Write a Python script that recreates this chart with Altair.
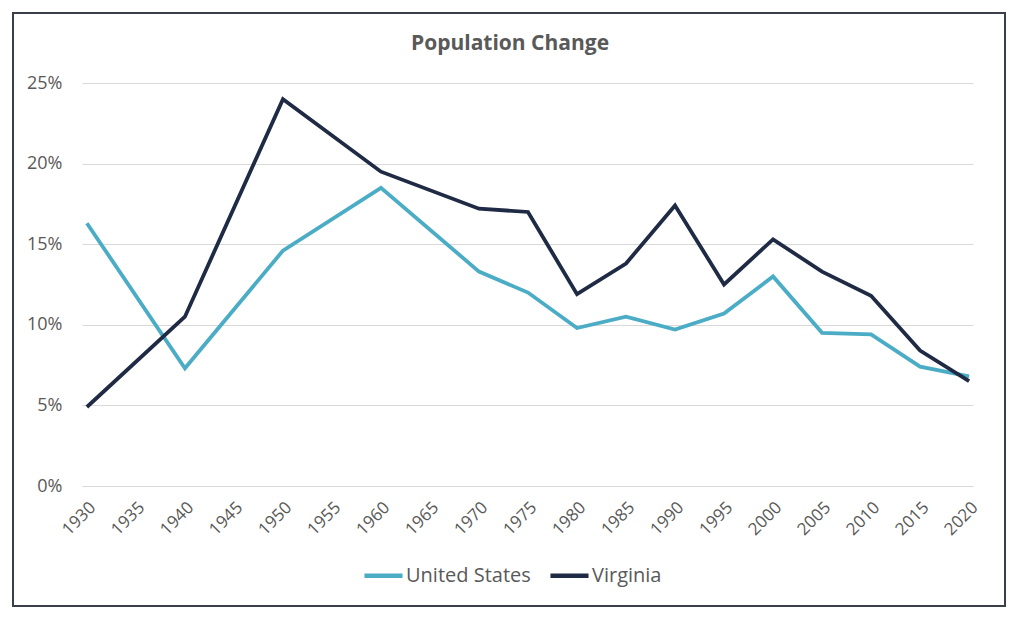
import altair as alt
import pandas as pd

years = [1930, 1940, 1950, 1960, 1970, 1975, 1980, 1985, 1990, 1995, 2000, 2005, 2010, 2015, 2020]
us = [16.3, 7.3, 14.6, 18.5, 13.3, 12.0, 9.8, 10.5, 9.7, 10.7, 13.0, 9.5, 9.4, 7.4, 6.8]
va = [4.9, 10.5, 24.0, 19.5, 17.2, 17.0, 11.9, 13.8, 17.4, 12.5, 15.3, 13.3, 11.8, 8.4, 6.5]
series = ["United States", "Virginia"]
colors = ["#4bacc6", "#1f2a44"]
tick_years = list(range(1930, 2021, 5))
y_ticks = [0, 5, 10, 15, 20, 25]
title_text = "Population Change"

rows = []
for y, u, v in zip(years, us, va):
    rows.append({"year": y, "series": series[0], "value": u / 100})
    rows.append({"year": y, "series": series[1], "value": v / 100})
df = pd.DataFrame(rows)

FONT = "Open Sans"
GRAY = "#595959"

lines = alt.Chart(df).mark_line(strokeWidth=3.8, strokeJoin="miter").encode(
    x=alt.X("year:Q", scale=alt.Scale(domain=[1929.5, 2020.4], nice=False, zero=False),
            axis=alt.Axis(values=tick_years, format="d", labelAngle=-45, title=None,
                          grid=False, ticks=False, domain=False, labelPadding=13,
                          labelFontSize=17, labelColor=GRAY, labelFont=FONT)),
    y=alt.Y("value:Q", scale=alt.Scale(domain=[0, 0.25], nice=False),
            axis=alt.Axis(values=[t / 100 for t in y_ticks], format=".0%", title=None,
                          ticks=False, domain=False, labelPadding=20,
                          labelFontSize=18, labelColor=GRAY, labelFont=FONT,
                          gridColor="#d9d9d9", gridWidth=1.2)),
    color=alt.Color("series:N", scale=alt.Scale(domain=series, range=colors),
                    legend=alt.Legend(title=None, orient="none", legendX=280, legendY=471,
                                      direction="horizontal", symbolType="stroke",
                                      symbolSize=1450, symbolStrokeWidth=4.5,
                                      labelFontSize=20, labelColor=GRAY, labelFont=FONT,
                                      columnPadding=10, labelOffset=1)),
)

frame = alt.Chart(pd.DataFrame({"a": [0]})).mark_rect(
    fill=None, stroke="#3a3f4a", strokeWidth=2
).encode(x=alt.value(-69), x2=alt.value(923), y=alt.value(-70), y2=alt.value(523))

title = alt.Chart(pd.DataFrame({"t": [title_text]})).mark_text(
    font=FONT, fontSize=21, fontWeight="bold", color=GRAY, baseline="middle", align="center"
).encode(text="t:N", x=alt.value(428), y=alt.value(-39))

chart = alt.layer(frame, title, lines).properties(
    width=891, height=403,
    autosize=alt.AutoSizeParams(type="none"),
    padding={"left": 74, "top": 75, "right": 43, "bottom": 130},
).configure_view(stroke=None)

chart.save("out.html", embed_options={"renderer": "svg", "actions": False})
